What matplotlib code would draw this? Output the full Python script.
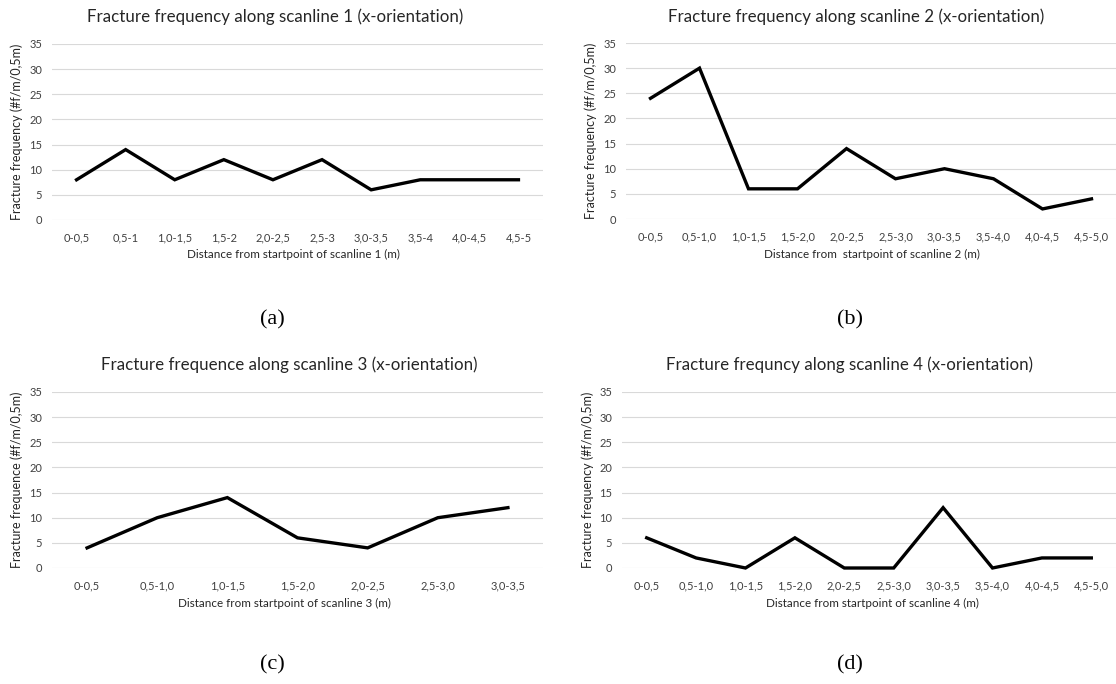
import matplotlib
matplotlib.use("Agg")
import matplotlib.pyplot as plt

W, H = 1116, 684

cats10_a = ["0-0,5", "0,5-1", "1,0-1,5", "1,5-2", "2,0-2,5", "2,5-3", "3,0-3,5", "3,5-4", "4,0-4,5", "4,5-5"]
cats10 = ["0-0,5", "0,5-1,0", "1,0-1,5", "1,5-2,0", "2,0-2,5", "2,5-3,0", "3,0-3,5", "3,5-4,0", "4,0-4,5", "4,5-5,0"]
cats7 = ["0-0,5", "0,5-1,0", "1,0-1,5", "1,5-2,0", "2,0-2,5", "2,5-3,0", "3,0-3,5"]

vals1 = [8, 14, 8, 12, 8, 12, 6, 8, 8, 8]
vals2 = [24, 30, 6, 6, 14, 8, 10, 8, 2, 4]
vals3 = [4, 10, 14, 6, 4, 10, 12]
vals4 = [6, 2, 0, 6, 0, 0, 12, 0, 2, 2]

titles = [
    "Fracture frequency along scanline 1 (x-orientation)",
    "Fracture frequency along scanline 2 (x-orientation)",
    "Fracture frequence along scanline 3 (x-orientation)",
    "Fracture frequncy along scanline 4 (x-orientation)",
]
xlabels = [
    "Distance from startpoint of scanline 1 (m)",
    "Distance from  startpoint of scanline 2 (m)",
    "Distance from startpoint of scanline 3 (m)",
    "Distance from startpoint of scanline 4 (m)",
]
ylabels = [
    "Fracture frequency (#f/m/0,5m)",
    "Fracture frequency (#f/m/0,5m)",
    "Fracture frequence (#f/m/0,5m)",
    "Fracture frequency (#f/m/0,5m)",
]
panel_labels = ["(a)", "(b)", "(c)", "(d)"]

# pixel boxes: left, right, top, bottom
boxes = [
    (52, 543, 44, 220),
    (626, 1116, 43, 219),
    (52, 543, 392, 568),
    (622, 1116, 392, 568),
]
title_pos = [(275, 17), (856, 17), (289, 365), (850, 365)]
xlabel_pos = [(293, 254), (872, 254), (284, 603), (872, 603)]
ylabel_x = [23, 597, 23, 594]
panel_label_pos = [(272, 320), (850, 320), (272, 665), (850, 665)]

data = [(cats10_a, vals1), (cats10, vals2), (cats7, vals3), (cats10, vals4)]

FONT = ["Lato", "DejaVu Sans"]
fig = plt.figure(figsize=(W / 100, H / 100), dpi=100)
fig.patch.set_facecolor("white")

for i, (cats, vals) in enumerate(data):
    l, r, t, b = boxes[i]
    ax = fig.add_axes([l / W, 1 - b / H, (r - l) / W, (b - t) / H])
    x = list(range(len(cats)))
    ax.plot(x, vals, color="black", lw=2.4, solid_joinstyle="miter", clip_on=False, zorder=3)
    ax.set_xlim(-0.5, len(cats) - 0.5)
    ax.set_ylim(0, 35)
    ax.set_yticks(range(0, 36, 5))
    ax.set_xticks(x)
    ax.set_xticklabels(cats, fontsize=8, family=FONT, color="#404040")
    for lab in ax.get_yticklabels():
        lab.set_fontsize(8)
        lab.set_family(FONT)
        lab.set_color("#404040")
    ax.tick_params(length=0)
    ax.tick_params(axis="y", pad=7)
    ax.tick_params(axis="x", pad=9)
    ax.grid(axis="y", color="#d9d9d9", lw=0.8)
    ax.set_axisbelow(True)
    for s in ax.spines.values():
        s.set_visible(False)
    ax.set_ylabel(ylabels[i], fontsize=9, family=FONT, color="#262626")
    ax.yaxis.set_label_coords((ylabel_x[i] - l) / (r - l), 0.5)

    tx, ty = title_pos[i]
    fig.text(tx / W, 1 - ty / H, titles[i], fontsize=12.2, family=FONT, color="#262626",
             ha="center", va="center")
    xx, xy = xlabel_pos[i]
    fig.text(xx / W, 1 - xy / H, xlabels[i], fontsize=8.4, family=FONT, color="#262626",
             ha="center", va="center")
    px, py = panel_label_pos[i]
    fig.text(px / W, 1 - py / H, panel_labels[i], fontsize=16, family="Liberation Serif",
             ha="center", va="center", color="black")

fig.savefig("out.png", dpi=100)
